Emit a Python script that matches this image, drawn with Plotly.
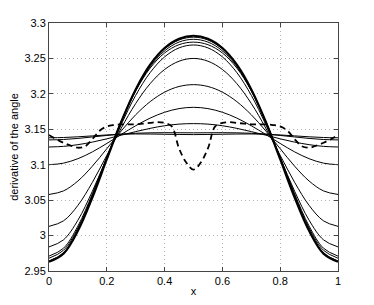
import plotly.graph_objects as go

x_vals = [0.0, 0.05, 0.1, 0.15, 0.2, 0.25, 0.3, 0.35, 0.4, 0.45, 0.5,
          0.55, 0.6, 0.65, 0.7, 0.75, 0.8, 0.85, 0.9, 0.95, 1.0]

curve_thick = [2.9630, 2.9745, 3.0067, 3.0537, 3.1078, 3.1607, 3.2063, 3.2412, 3.2647, 3.2778, 3.2820,
               3.2778, 3.2647, 3.2412, 3.2063, 3.1607, 3.1078, 3.0537, 3.0067, 2.9745, 2.9630]
curve_2 = [2.9640, 2.9755, 3.0077, 3.0548, 3.1086, 3.1612, 3.2063, 3.2405, 3.2634, 3.2760, 3.2800,
           3.2760, 3.2634, 3.2405, 3.2063, 3.1612, 3.1086, 3.0548, 3.0077, 2.9755, 2.9640]
curve_3 = [2.9680, 2.9792, 3.0107, 3.0567, 3.1093, 3.1607, 3.2048, 3.2383, 3.2607, 3.2731, 3.2770,
           3.2731, 3.2607, 3.2383, 3.2048, 3.1607, 3.1093, 3.0567, 3.0107, 2.9792, 2.9680]
curve_4 = [2.9710, 2.9821, 3.0134, 3.0589, 3.1108, 3.1612, 3.2041, 3.2364, 3.2577, 3.2694, 3.2730,
           3.2694, 3.2577, 3.2364, 3.2041, 3.1612, 3.1108, 3.0589, 3.0134, 2.9821, 2.9710]
curve_5 = [2.9840, 2.9939, 3.0217, 3.0625, 3.1098, 3.1567, 3.1979, 3.2300, 3.2522, 3.2649, 3.2690,
           3.2649, 3.2522, 3.2300, 3.1979, 3.1567, 3.1098, 3.0625, 3.0217, 2.9939, 2.9840]
curve_6 = [3.0130, 3.0207, 3.0426, 3.0751, 3.1132, 3.1517, 3.1864, 3.2144, 3.2344, 3.2461, 3.2500,
           3.2461, 3.2344, 3.2144, 3.1864, 3.1517, 3.1132, 3.0751, 3.0426, 3.0207, 3.0130]
curve_7 = [3.0580, 3.0630, 3.0770, 3.0979, 3.1226, 3.1477, 3.1705, 3.1890, 3.2024, 3.2104, 3.2130,
           3.2104, 3.2024, 3.1890, 3.1705, 3.1477, 3.1226, 3.0979, 3.0770, 3.0630, 3.0580]
curve_8 = [3.1000, 3.1022, 3.1085, 3.1181, 3.1300, 3.1427, 3.1550, 3.1658, 3.1740, 3.1792, 3.1810,
           3.1792, 3.1740, 3.1658, 3.1550, 3.1427, 3.1300, 3.1181, 3.1085, 3.1022, 3.1000]
curve_9 = [3.1250, 3.1259, 3.1283, 3.1319, 3.1365, 3.1417, 3.1467, 3.1513, 3.1550, 3.1573, 3.1580,
           3.1573, 3.1550, 3.1513, 3.1467, 3.1417, 3.1365, 3.1319, 3.1283, 3.1259, 3.1250]
curve_10 = [3.1350, 3.1356, 3.1371, 3.1392, 3.1413, 3.1432, 3.1444, 3.1450, 3.1452, 3.1451, 3.1450,
            3.1451, 3.1452, 3.1450, 3.1444, 3.1432, 3.1413, 3.1392, 3.1371, 3.1356, 3.1350]
curve_11 = [3.1380, 3.1384, 3.1394, 3.1407, 3.1420, 3.1430, 3.1434, 3.1433, 3.1430, 3.1427, 3.1425,
            3.1427, 3.1430, 3.1433, 3.1434, 3.1430, 3.1420, 3.1407, 3.1394, 3.1384, 3.1380]

dash_x = [0.0, 0.025, 0.05, 0.075, 0.1, 0.125, 0.15, 0.175, 0.2, 0.225, 0.25, 0.275, 0.3, 0.325,
          0.35, 0.375, 0.4, 0.425, 0.45, 0.475, 0.5, 0.525, 0.55, 0.575, 0.6, 0.625, 0.65, 0.675,
          0.7, 0.725, 0.75, 0.775, 0.8, 0.825, 0.85, 0.875, 0.9, 0.925, 0.95, 0.975, 1.0]
dash_y = [3.142, 3.136, 3.131, 3.127, 3.124, 3.126, 3.136, 3.148, 3.154, 3.156, 3.157, 3.157, 3.157,
          3.158, 3.159, 3.160, 3.159, 3.154, 3.123, 3.103, 3.093, 3.103, 3.123, 3.154, 3.159, 3.160,
          3.159, 3.158, 3.157, 3.157, 3.157, 3.156, 3.154, 3.148, 3.136, 3.126, 3.124, 3.127, 3.131,
          3.136, 3.142]

x_ticks = [0, 0.2, 0.4, 0.6, 0.8, 1]
x_tick_text = ["0", "0.2", "0.4", "0.6", "0.8", "1"]
y_ticks = [2.95, 3.0, 3.05, 3.1, 3.15, 3.2, 3.25, 3.3]
y_tick_text = ["2.95", "3", "3.05", "3.1", "3.15", "3.2", "3.25", "3.3"]

fig = go.Figure()
thin_curves = [curve_11, curve_10, curve_9, curve_8, curve_7, curve_6, curve_5, curve_4, curve_3, curve_2]
for c in thin_curves:
    fig.add_trace(go.Scatter(x=x_vals, y=c, mode="lines", line=dict(color="black", width=1, shape="spline"),
                             showlegend=False, hoverinfo="skip"))
fig.add_trace(go.Scatter(x=x_vals, y=curve_thick, mode="lines", line=dict(color="black", width=2.2, shape="spline"),
                         showlegend=False, hoverinfo="skip"))
fig.add_trace(go.Scatter(x=dash_x, y=dash_y, mode="lines",
                         line=dict(color="black", width=1.8, dash="6px,4px", shape="spline"),
                         showlegend=False, hoverinfo="skip"))

font = dict(family="Liberation Sans, Arial", size=11, color="black")
axis_common = dict(showline=True, linecolor="#444", linewidth=1, mirror="ticks",
                   ticks="inside", ticklen=4, tickcolor="#444", automargin=False,
                   showgrid=True, gridcolor="#b0b0b0", griddash="1px,3px", gridwidth=1,
                   zeroline=False, tickfont=font)

fig.update_xaxes(range=[0, 1], tickvals=x_ticks, ticktext=x_tick_text,
                 title=dict(text="x", font=font, standoff=2), **axis_common)
fig.update_yaxes(range=[2.95, 3.3], tickvals=y_ticks, ticktext=y_tick_text,
                 title=dict(text="derivative of the angle", font=font, standoff=4), **axis_common)

fig.update_layout(width=358, height=289, margin=dict(l=41, r=28, t=15, b=26),
                  plot_bgcolor="white", paper_bgcolor="white")

fig.write_html("out.html")
